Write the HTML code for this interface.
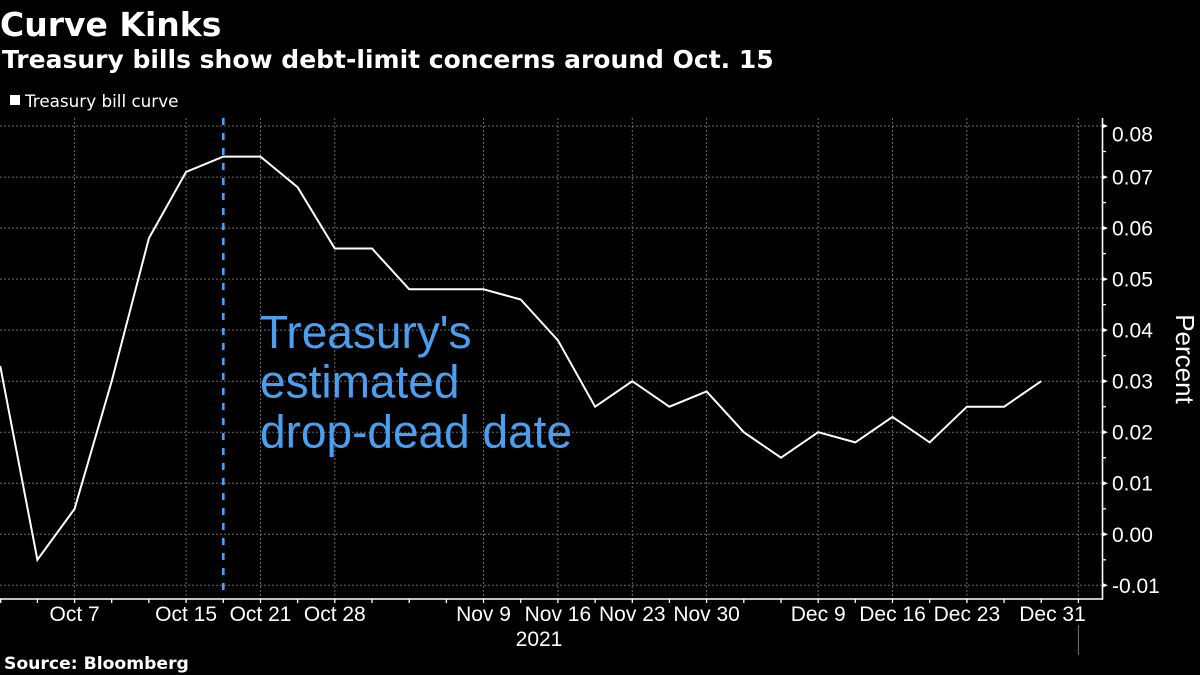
<!DOCTYPE html>
<html>
<head>
<meta charset="utf-8">
<style>
  html, body { margin:0; padding:0; background:#000; }
  body { width:1200px; height:675px; overflow:hidden; }
  svg { display:block; }
</style>
</head>
<body>
<svg width="1200" height="675" viewBox="0 0 1200 675" xmlns="http://www.w3.org/2000/svg">
  <rect x="0" y="0" width="1200" height="675" fill="#000"/>

  <!-- Titles -->
  <text x="0" y="36" fill="#fff" font-family="'DejaVu Sans', 'Liberation Sans', sans-serif" font-weight="bold" font-size="33">Curve Kinks</text>
  <text x="2" y="68" fill="#fff" font-family="'DejaVu Sans', 'Liberation Sans', sans-serif" font-weight="bold" font-size="25">Treasury bills show debt-limit concerns around Oct. 15</text>

  <!-- Legend -->
  <rect x="10" y="95" width="10" height="10" fill="#fff"/>
  <text x="25" y="107" fill="#fff" font-family="'DejaVu Sans', 'Liberation Sans', sans-serif" font-size="16.8">Treasury bill curve</text>

  <!-- Horizontal gridlines -->
  <g stroke="#6a6a6a" stroke-width="1" stroke-dasharray="2,2" fill="none">
    <line x1="0" y1="126.0" x2="1102" y2="126.0"/>
    <line x1="0" y1="177.1" x2="1102" y2="177.1"/>
    <line x1="0" y1="228.1" x2="1102" y2="228.1"/>
    <line x1="0" y1="279.1" x2="1102" y2="279.1"/>
    <line x1="0" y1="330.1" x2="1102" y2="330.1"/>
    <line x1="0" y1="381.2" x2="1102" y2="381.2"/>
    <line x1="0" y1="432.2" x2="1102" y2="432.2"/>
    <line x1="0" y1="483.2" x2="1102" y2="483.2"/>
    <line x1="0" y1="534.3" x2="1102" y2="534.3"/>
    <line x1="0" y1="585.3" x2="1102" y2="585.3"/>
  </g>

  <!-- Vertical gridlines -->
  <g stroke="#6a6a6a" stroke-width="1" stroke-dasharray="2,2" fill="none">
    <line x1="74.6" y1="118" x2="74.6" y2="599"/>
    <line x1="186.1" y1="118" x2="186.1" y2="599"/>
    <line x1="260.5" y1="118" x2="260.5" y2="599"/>
    <line x1="334.8" y1="118" x2="334.8" y2="599"/>
    <line x1="483.5" y1="118" x2="483.5" y2="599"/>
    <line x1="557.9" y1="118" x2="557.9" y2="599"/>
    <line x1="632.3" y1="118" x2="632.3" y2="599"/>
    <line x1="706.6" y1="118" x2="706.6" y2="599"/>
    <line x1="818.2" y1="118" x2="818.2" y2="599"/>
    <line x1="892.5" y1="118" x2="892.5" y2="599"/>
    <line x1="966.9" y1="118" x2="966.9" y2="599"/>
    <line x1="1078.4" y1="118" x2="1078.4" y2="599"/>
  </g>
  <line x1="1078.4" y1="625" x2="1078.4" y2="655" stroke="#777" stroke-width="1"/>

  <!-- Drop-dead date dashed line -->
  <line x1="223.3" y1="118" x2="223.3" y2="592" stroke="#4aa0f0" stroke-width="2.6" stroke-dasharray="7,8"/>

  <!-- Annotation -->
  <g fill="#4aa0f0" font-family="'Liberation Sans', sans-serif" font-size="46">
    <text x="260" y="348">Treasury's</text>
    <text x="260" y="397.5">estimated</text>
    <text x="260" y="447.5">drop-dead date</text>
  </g>

  <!-- Data line -->
  <polyline fill="none" stroke="#fff" stroke-width="2" stroke-linejoin="miter"
    points="0.2,365.9 37.4,559.8 74.6,508.8 111.7,381.2 148.9,238.3 186.1,171.9 223.3,156.6 260.5,156.6 297.6,187.2 334.8,248.5 372.0,248.5 409.2,289.3 446.4,289.3 483.5,289.3 520.7,299.5 557.9,340.3 595.1,406.7 632.3,381.2 669.4,406.7 706.6,391.4 743.8,432.2 781.0,457.7 818.2,432.2 855.3,442.4 892.5,416.9 929.7,442.4 966.9,406.7 1004.1,406.7 1041.2,381.2"/>

  <!-- X axis -->
  <line x1="0" y1="599" x2="1103" y2="599" stroke="#fff" stroke-width="1.6"/>
  <g stroke="#fff" stroke-width="1.3">
    <line x1="0.7" y1="599" x2="0.7" y2="603"/>
    <line x1="37.4" y1="599" x2="37.4" y2="603"/>
    <line x1="74.6" y1="599" x2="74.6" y2="603"/>
    <line x1="111.7" y1="599" x2="111.7" y2="603"/>
    <line x1="148.9" y1="599" x2="148.9" y2="603"/>
    <line x1="186.1" y1="599" x2="186.1" y2="603"/>
    <line x1="223.3" y1="599" x2="223.3" y2="603"/>
    <line x1="260.5" y1="599" x2="260.5" y2="603"/>
    <line x1="297.6" y1="599" x2="297.6" y2="603"/>
    <line x1="334.8" y1="599" x2="334.8" y2="603"/>
    <line x1="372.0" y1="599" x2="372.0" y2="603"/>
    <line x1="409.2" y1="599" x2="409.2" y2="603"/>
    <line x1="446.4" y1="599" x2="446.4" y2="603"/>
    <line x1="483.5" y1="599" x2="483.5" y2="603"/>
    <line x1="520.7" y1="599" x2="520.7" y2="603"/>
    <line x1="557.9" y1="599" x2="557.9" y2="603"/>
    <line x1="595.1" y1="599" x2="595.1" y2="603"/>
    <line x1="632.3" y1="599" x2="632.3" y2="603"/>
    <line x1="669.4" y1="599" x2="669.4" y2="603"/>
    <line x1="706.6" y1="599" x2="706.6" y2="603"/>
    <line x1="743.8" y1="599" x2="743.8" y2="603"/>
    <line x1="781.0" y1="599" x2="781.0" y2="603"/>
    <line x1="818.2" y1="599" x2="818.2" y2="603"/>
    <line x1="855.3" y1="599" x2="855.3" y2="603"/>
    <line x1="892.5" y1="599" x2="892.5" y2="603"/>
    <line x1="929.7" y1="599" x2="929.7" y2="603"/>
    <line x1="966.9" y1="599" x2="966.9" y2="603"/>
    <line x1="1004.1" y1="599" x2="1004.1" y2="603"/>
    <line x1="1041.2" y1="599" x2="1041.2" y2="603"/>
    <line x1="1078.4" y1="599" x2="1078.4" y2="603"/>
  </g>
  <g fill="#fff" font-family="'Liberation Sans', sans-serif" font-size="21" text-anchor="middle">
    <text x="74.6" y="621">Oct 7</text>
    <text x="186.1" y="621">Oct 15</text>
    <text x="260.5" y="621">Oct 21</text>
    <text x="334.8" y="621">Oct 28</text>
    <text x="483.5" y="621">Nov 9</text>
    <text x="557.9" y="621">Nov 16</text>
    <text x="632.3" y="621">Nov 23</text>
    <text x="706.6" y="621">Nov 30</text>
    <text x="818.2" y="621">Dec 9</text>
    <text x="892.5" y="621">Dec 16</text>
    <text x="966.9" y="621">Dec 23</text>
    <text x="1052.5" y="621">Dec 31</text>
    <text x="539" y="646">2021</text>
  </g>

  <!-- Y axis -->
  <line x1="1102.5" y1="118" x2="1102.5" y2="599.8" stroke="#fff" stroke-width="1.6"/>
  <g fill="#fff">
    <polygon points="1102,123.5 1108,126.0 1102,128.5"/>
    <polygon points="1102,174.6 1108,177.1 1102,179.6"/>
    <polygon points="1102,225.6 1108,228.1 1102,230.6"/>
    <polygon points="1102,276.6 1108,279.1 1102,281.6"/>
    <polygon points="1102,327.6 1108,330.1 1102,332.6"/>
    <polygon points="1102,378.7 1108,381.2 1102,383.7"/>
    <polygon points="1102,429.7 1108,432.2 1102,434.7"/>
    <polygon points="1102,480.7 1108,483.2 1102,485.7"/>
    <polygon points="1102,531.8 1108,534.3 1102,536.8"/>
    <polygon points="1102,582.8 1108,585.3 1102,587.8"/>
  </g>
  <g stroke="#fff" stroke-width="1.3">
    <line x1="1102" y1="151.5" x2="1106" y2="151.5"/>
    <line x1="1102" y1="202.6" x2="1106" y2="202.6"/>
    <line x1="1102" y1="253.6" x2="1106" y2="253.6"/>
    <line x1="1102" y1="304.6" x2="1106" y2="304.6"/>
    <line x1="1102" y1="355.7" x2="1106" y2="355.7"/>
    <line x1="1102" y1="406.7" x2="1106" y2="406.7"/>
    <line x1="1102" y1="457.7" x2="1106" y2="457.7"/>
    <line x1="1102" y1="508.8" x2="1106" y2="508.8"/>
    <line x1="1102" y1="559.8" x2="1106" y2="559.8"/>
  </g>
  <g fill="#fff" font-family="'Liberation Sans', sans-serif" font-size="21">
    <text x="1112" y="141.7">0.08</text>
    <text x="1112" y="184.6">0.07</text>
    <text x="1112" y="235.6">0.06</text>
    <text x="1112" y="286.6">0.05</text>
    <text x="1112" y="337.6">0.04</text>
    <text x="1112" y="388.7">0.03</text>
    <text x="1112" y="439.7">0.02</text>
    <text x="1112" y="490.7">0.01</text>
    <text x="1112" y="541.8">0.00</text>
    <text x="1112" y="592.8">-0.01</text>
  </g>
  <text transform="translate(1176,359) rotate(90)" fill="#fff" font-family="'Liberation Sans', sans-serif" font-size="26" text-anchor="middle">Percent</text>

  <!-- Source -->
  <text x="4" y="669" fill="#fff" font-family="'DejaVu Sans', 'Liberation Sans', sans-serif" font-weight="bold" font-size="17.2">Source: Bloomberg</text>
</svg>
</body>
</html>
